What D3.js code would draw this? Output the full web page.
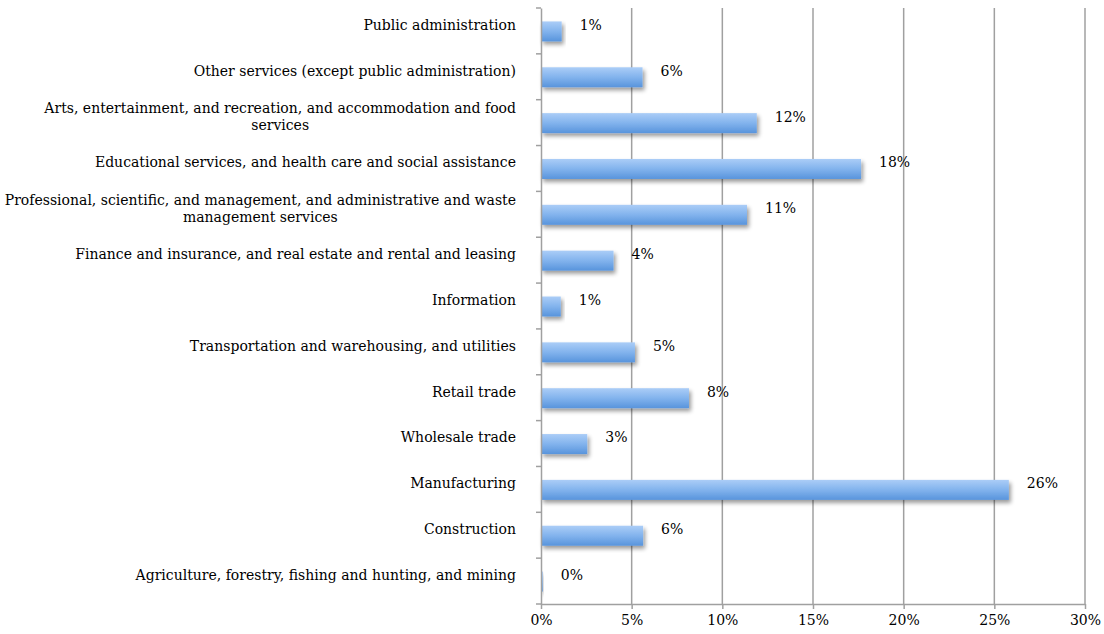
<!DOCTYPE html>
<html>
<head>
<meta charset="utf-8">
<script src="https://cdn.jsdelivr.net/npm/d3@7"></script>
<style>
html,body{margin:0;padding:0;background:#fff;}
svg{display:block;}
</style>
</head>
<body>
<svg id="chart" width="1104" height="634"></svg>
<script>
const categories = [
  "Public administration",
  "Other services (except public administration)",
  "Arts, entertainment, and recreation, and accommodation and food services",
  "Educational services, and health care and social assistance",
  "Professional, scientific, and management, and administrative and waste management services",
  "Finance and insurance, and real estate and rental and leasing",
  "Information",
  "Transportation and warehousing, and utilities",
  "Retail trade",
  "Wholesale trade",
  "Manufacturing",
  "Construction",
  "Agriculture, forestry, fishing and hunting, and mining"
];
const categoryLines = [
  ["Public administration"],
  ["Other services (except public administration)"],
  ["Arts, entertainment, and recreation, and accommodation and food", "services"],
  ["Educational services, and health care and social assistance"],
  ["Professional, scientific, and management, and administrative and waste", "management services"],
  ["Finance and insurance, and real estate and rental and leasing"],
  ["Information"],
  ["Transportation and warehousing, and utilities"],
  ["Retail trade"],
  ["Wholesale trade"],
  ["Manufacturing"],
  ["Construction"],
  ["Agriculture, forestry, fishing and hunting, and mining"]
];
const values = [1.14, 5.6, 11.9, 17.65, 11.36, 4.0, 1.09, 5.18, 8.16, 2.55, 25.8, 5.63, 0.1];
const xTicks = [0, 5, 10, 15, 20, 25, 30];

const FONT = "'DejaVu Serif', 'Liberation Serif', serif";
const FS = 14;
const svg = d3.select("#chart").attr("font-family", FONT);
const mLeft = 541, mRight = 1085, mTop = 8, mBottom = 604;

const x = d3.scaleLinear().domain([0, 30]).range([mLeft, mRight]);
const y = d3.scaleBand().domain(categories).range([mTop, mBottom]).paddingInner(0).paddingOuter(0);
const barH = 20;

const defs = svg.append("defs");
const grad = defs.append("linearGradient").attr("id", "barGrad").attr("x1", 0).attr("y1", 0).attr("x2", 0).attr("y2", 1);
grad.append("stop").attr("offset", "0%").attr("stop-color", "#abcdf7");
grad.append("stop").attr("offset", "50%").attr("stop-color", "#82b3ed");
grad.append("stop").attr("offset", "100%").attr("stop-color", "#5894dc");
const shadow = defs.append("filter").attr("id", "shadow").attr("x", "-10%").attr("y", "-30%").attr("width", "130%").attr("height", "200%");
shadow.append("feGaussianBlur").attr("in", "SourceAlpha").attr("stdDeviation", 2.2).attr("result", "blur");
shadow.append("feOffset").attr("in", "blur").attr("dx", 1.5).attr("dy", 3).attr("result", "off");
shadow.append("feComponentTransfer").attr("in", "off").attr("result", "sh")
  .append("feFuncA").attr("type", "linear").attr("slope", 0.4);
const merge = shadow.append("feMerge");
merge.append("feMergeNode").attr("in", "sh");
merge.append("feMergeNode").attr("in", "SourceGraphic");

// gridlines
svg.append("g").selectAll("line").data(xTicks.filter(d => d > 0)).join("line")
  .attr("x1", d => x(d)).attr("x2", d => x(d))
  .attr("y1", mTop).attr("y2", mBottom)
  .attr("stroke", "#a0a0a0").attr("stroke-width", 1.5);

// bars
svg.append("g").selectAll("rect").data(categories).join("rect")
  .attr("x", x(0))
  .attr("y", (d) => y(d) + y.bandwidth() / 2 - barH / 2 + 0.5)
  .attr("width", (d, i) => Math.max(0, x(values[i]) - x(0)))
  .attr("height", barH)
  .attr("fill", "url(#barGrad)")
  .attr("filter", "url(#shadow)");

// value labels
const fmt = d3.format(".0f");
svg.append("g").selectAll("text").data(categories).join("text")
  .attr("x", (d, i) => x(values[i]) + 18)
  .attr("y", d => y(d) + y.bandwidth() / 2 - 6)
  .attr("dy", "0.35em")
  .attr("font-size", FS)
  .attr("font-family", FONT)
  .attr("fill", "#000")
  .text((d, i) => fmt(values[i]) + "%");

// y axis
const yAxis = d3.axisLeft(y).tickSize(0).tickFormat("");
const yg = svg.append("g").attr("transform", `translate(${mLeft},0)`).call(yAxis);
yg.select(".domain").attr("stroke", "#a0a0a0").attr("stroke-width", 1.5);
const bounds = categories.map(c => y(c)).concat([mBottom]);
svg.append("g").selectAll("line").data(bounds).join("line")
  .attr("x1", mLeft - 5).attr("x2", mLeft)
  .attr("y1", d => d).attr("y2", d => d)
  .attr("stroke", "#a0a0a0").attr("stroke-width", 1.5);

// category labels
const catG = svg.append("g").selectAll("text").data(categories).join("text")
  .attr("font-size", FS)
  .attr("font-family", FONT)
  .attr("fill", "#000")
  .attr("text-anchor", "middle");
catG.each(function(d, i) {
  const lines = categoryLines[i];
  const t = d3.select(this);
  const cy = y(d) + y.bandwidth() / 2 - 6;
  const lh = 17;
  lines.forEach((ln, j) => {
    t.append("tspan").text(ln)
      .attr("y", cy + (j - (lines.length - 1) / 2) * lh)
      .attr("dy", "0.35em");
  });
});
catG.each(function(d, i) {
  const t = d3.select(this);
  let maxW = 0;
  t.selectAll("tspan").each(function() { maxW = Math.max(maxW, this.getComputedTextLength()); });
  const cx = mLeft - 25 - maxW / 2;
  t.selectAll("tspan").attr("x", cx);
});

// x axis
const xAxis = d3.axisBottom(x).tickValues(xTicks).tickSize(5).tickSizeOuter(0).tickFormat(d => d + "%");
const xg = svg.append("g").attr("transform", `translate(0,${mBottom})`).call(xAxis)
  .attr("font-family", FONT).attr("font-size", FS);
xg.select(".domain").attr("stroke", "#a0a0a0").attr("stroke-width", 1.5);
xg.selectAll(".tick line").attr("stroke", "#a0a0a0").attr("stroke-width", 1.5);
xg.selectAll(".tick text").attr("fill", "#000").attr("dy", "0.95em");
</script>
</body>
</html>
